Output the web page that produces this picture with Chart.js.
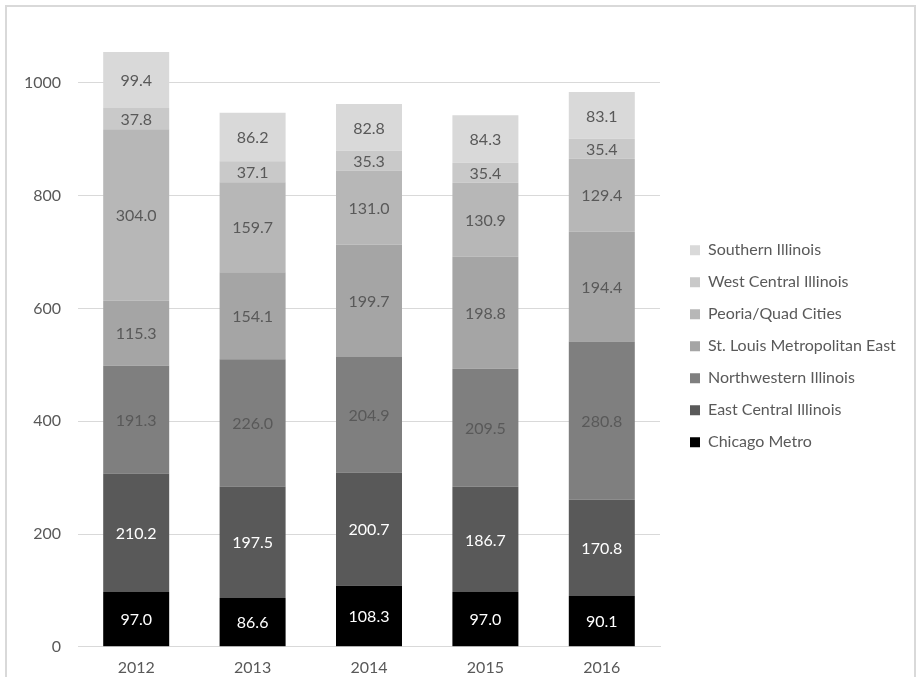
<!DOCTYPE html>
<html>
<head>
<meta charset="utf-8">
<script src="https://cdn.jsdelivr.net/npm/chart.js@4.4.1/dist/chart.umd.min.js"></script>
<style>
  html, body { margin: 0; padding: 0; background: #ffffff; }
  #wrap { position: relative; width: 916px; height: 677px; overflow: hidden; }
  #frame { position: absolute; left: 5px; top: 5px; width: 907px; height: 700px; border: 2px solid #d9d9d9; box-sizing: content-box; }
  #c { position: absolute; left: 0; top: 0; }
</style>
</head>
<body>
<div id="wrap">
  <div id="frame"></div>
  <canvas id="c" width="916" height="677"></canvas>
</div>
<script>
const years = ["2012", "2013", "2014", "2015", "2016"];
const seriesNames = ["Chicago Metro", "East Central Illinois", "Northwestern Illinois", "St. Louis Metropolitan East", "Peoria/Quad Cities", "West Central Illinois", "Southern Illinois"];
const chicagoMetro = [97.0, 86.6, 108.3, 97.0, 90.1];
const eastCentral = [210.2, 197.5, 200.7, 186.7, 170.8];
const northwestern = [191.3, 226.0, 204.9, 209.5, 280.8];
const stLouisEast = [115.3, 154.1, 199.7, 198.8, 194.4];
const peoriaQuad = [304.0, 159.7, 131.0, 130.9, 129.4];
const westCentral = [37.8, 37.1, 35.3, 35.4, 35.4];
const southern = [99.4, 86.2, 82.8, 84.3, 83.1];
const yTickValues = [0, 200, 400, 600, 800, 1000];

const seriesValues = [chicagoMetro, eastCentral, northwestern, stLouisEast, peoriaQuad, westCentral, southern];
const fills = ["#000000", "#595959", "#7f7f7f", "#a5a5a5", "#b7b7b7", "#c9c9c9", "#d9d9d9"];
const labelColors = ["#ffffff", "#ffffff", "#595959", "#595959", "#595959", "#595959", "#595959"];

const FONT = "Lato, 'Open Sans', sans-serif";

const valueLabels = {
  id: 'valueLabels',
  afterDatasetsDraw(chart) {
    const ctx = chart.ctx;
    ctx.save();
    ctx.font = "16px " + FONT;
    ctx.textAlign = 'center';
    ctx.textBaseline = 'middle';
    chart.data.datasets.forEach((ds, di) => {
      const meta = chart.getDatasetMeta(di);
      meta.data.forEach((el, i) => {
        const v = ds.data[i];
        ctx.fillStyle = labelColors[di];
        ctx.fillText(v.toFixed(1), el.x, (el.y + el.base) / 2 + 1);
      });
    });
    ctx.restore();
  }
};

const legendShift = {
  id: 'legendShift',
  afterLayout(chart) {
    const lg = chart.legend;
    if (!lg) return;
    const dx = 660 - lg.left + 14;
    const dy = -10;
    lg.left += dx;
    lg.right = chart.width;
    lg.width = lg.right - lg.left;
    lg.top += dy; lg.bottom += dy;
  }
};

new Chart(document.getElementById('c'), {
  type: 'bar',
  data: {
    labels: years,
    datasets: seriesNames.map((name, i) => ({
      label: name,
      data: seriesValues[i],
      backgroundColor: fills[i],
      borderWidth: 0,
      categoryPercentage: 1.0,
      barPercentage: 0.567
    }))
  },
  options: {
    responsive: false,
    animation: false,
    devicePixelRatio: 1,
    layout: { padding: { left: 0, right: 36, top: 24.5, bottom: -11 } },
    plugins: {
      legend: {
        position: 'right',
        reverse: true,
        labels: {
          boxWidth: 10,
          boxHeight: 10,
          padding: 16,
          color: '#595959',
          font: { family: FONT, size: 16 }
        }
      },
      tooltip: { enabled: false },
      title: { display: false }
    },
    scales: {
      x: {
        stacked: true,
        grid: { display: false, drawTicks: false },
        border: { display: true, color: '#d9d9d9', width: 1 },
        ticks: { color: '#595959', font: { family: FONT, size: 16 }, padding: 11 }
      },
      y: {
        stacked: true,
        min: 0,
        max: 1100,
        afterBuildTicks(scale) {
          scale.ticks = yTickValues.map(v => ({ value: v }));
        },
        afterFit(scale) { scale.width = 78; },
        grid: { color: '#d9d9d9', lineWidth: 1, drawTicks: false },
        border: { display: false },
        ticks: {
          color: '#595959',
          font: { family: FONT, size: 16 },
          padding: 17,
          callback: (v) => String(v)
        }
      }
    }
  },
  plugins: [valueLabels, legendShift]
});
</script>
</body>
</html>
